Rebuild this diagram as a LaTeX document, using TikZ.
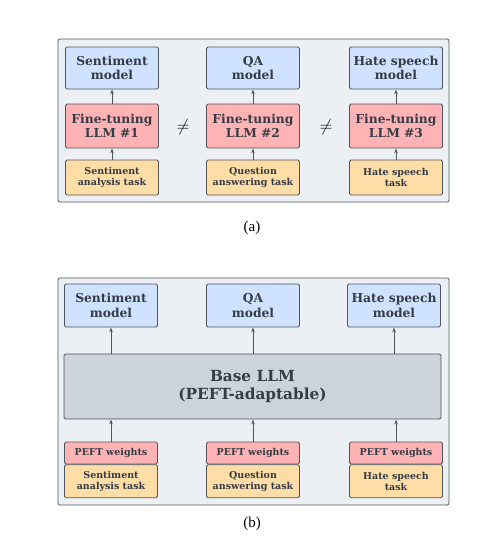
\documentclass[tikz,border=0pt]{standalone}
\usepackage{fontspec}
\setmainfont{DejaVu Serif}
\newfontfamily\capfont{Liberation Serif}
\usetikzlibrary{arrows.meta}

\definecolor{txtgray}{HTML}{353C46}
\definecolor{edgegray}{HTML}{50565E}
\definecolor{panelbg}{HTML}{ECEFF3}
\definecolor{modelblue}{HTML}{CFE2FF}
\definecolor{tunered}{HTML}{FFB3B5}
\definecolor{taskorange}{HTML}{FFDDA6}
\definecolor{basegray}{HTML}{CDD3DA}

\begin{document}
\begin{tikzpicture}[x=1pt,y=-1pt,
    panel/.style={draw=edgegray,fill=panelbg,line width=0.8pt,rounded corners=2pt},
    box/.style={draw=edgegray,line width=0.8pt,rounded corners=1.5pt,inner sep=0pt,
        minimum width=93pt,align=center,text=txtgray,font=\bfseries},
    model/.style={box,fill=modelblue,minimum height=42pt,font=\fontsize{12.3}{14.5}\selectfont\bfseries},
    tune/.style={box,fill=tunered,minimum height=44pt,font=\fontsize{12.3}{14.5}\selectfont\bfseries},
    task/.style={box,fill=taskorange,minimum height=35pt,font=\fontsize{9.5}{11.5}\selectfont\bfseries},
    peft/.style={box,fill=tunered,minimum height=22pt,font=\fontsize{9.5}{11.5}\selectfont\bfseries},
    neq/.style={text=black,font=\fontsize{16}{16}\selectfont},
    arr/.style={-{Stealth[length=5pt,width=3.5pt]},draw=edgegray,line width=0.9pt},
    capt/.style={font=\capfont\fontsize{15}{17}\selectfont}]
        \useasboundingbox (0,0) rectangle (487,555);
        % panel (a): one fine-tuned LLM per task
        \draw[panel] (58,39) rectangle (449,202);
        \node[model] (ma1) at (112,68) {Sentiment\\model};
        \node[model] (ma2) at (253,68) {QA\\model};
        \node[model] (ma3) at (396,68) {Hate speech\\model};
        \node[tune] (ft1) at (112,126) {Fine-tuning\\LLM \#1};
        \node[tune] (ft2) at (253,126) {Fine-tuning\\LLM \#2};
        \node[tune] (ft3) at (396,126) {Fine-tuning\\LLM \#3};
        \node[task] (ta1) at (112,177.5) {Sentiment\\analysis task};
        \node[task] (ta2) at (253,177.5) {Question\\answering task};
        \node[task] (ta3) at (396,177.5) {Hate speech\\task};
        \node[neq] (ne1) at (183,127) {$\neq$};
        \node[neq] (ne2) at (326,127) {$\neq$};
        \foreach \i in {1,2,3} {
            \draw[arr] (ta\i) -- (ft\i);
            \draw[arr] (ft\i) -- (ma\i);
        }
        \node[capt] (capa) at (252,228) {(a)};
        % panel (b): one base LLM with PEFT weights per task
        \draw[panel] (58,278) rectangle (449,505);
        \node[model,minimum height=43pt] (mb1) at (111,305.5) {Sentiment\\model};
        \node[model,minimum height=43pt] (mb2) at (253,305.5) {QA\\model};
        \node[model,minimum height=43pt] (mb3) at (394,305.5) {Hate speech\\model};
        \node[box,fill=basegray,minimum width=377pt,minimum height=65pt,
              font=\fontsize{15.3}{17.5}\selectfont\bfseries] (base) at (252.5,386.5) {Base LLM\\(PEFT-adaptable)};
        \node[peft] (pw1) at (111,453) {PEFT weights};
        \node[peft] (pw2) at (253,453) {PEFT weights};
        \node[peft] (pw3) at (396,453) {PEFT weights};
        \node[task,minimum height=33pt,anchor=north] (tb1) at (pw1.south) {Sentiment\\analysis task};
        \node[task,minimum height=33pt,anchor=north] (tb2) at (pw2.south) {Question\\answering task};
        \node[task,minimum height=33pt,anchor=north] (tb3) at (pw3.south) {Hate speech\\task};
        \foreach \i in {1,2,3} {
            \draw[arr] (pw\i.north) -- (pw\i.north |- base.south);
            \draw[arr] (mb\i.south |- base.north) -- (mb\i.south);
        }
        \node[capt] (capb) at (252,524) {(b)};
\end{tikzpicture}
\end{document}
